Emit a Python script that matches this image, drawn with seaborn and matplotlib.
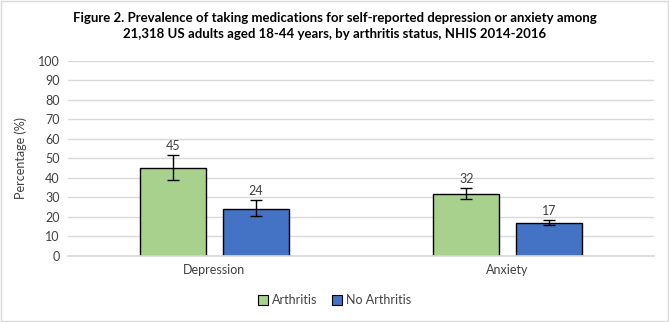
import matplotlib
matplotlib.use("Agg")
import matplotlib.pyplot as plt
import seaborn as sns
import pandas as pd
import numpy as np
from matplotlib.patches import Rectangle

categories = ["Depression", "Anxiety"]
groups = ["Arthritis", "No Arthritis"]
arthritis = [45, 32]
no_arthritis = [24, 17]
arthritis_lo = [39, 29.3]
arthritis_hi = [51.8, 35]
no_arthritis_lo = [20.5, 15.9]
no_arthritis_hi = [28.7, 18.5]
yticks = [0, 10, 20, 30, 40, 50, 60, 70, 80, 90, 100]
title = ("Figure 2. Prevalence of taking medications for self-reported depression or anxiety among\n"
         "21,318 US adults aged 18-44 years, by arthritis status, NHIS 2014-2016")

sns.set_theme(style="white")
plt.rcParams['font.family'] = ['Lato', 'DejaVu Sans']

df = pd.DataFrame({
    "Condition": categories * 2,
    "Group": [groups[0]] * 2 + [groups[1]] * 2,
    "Value": arthritis + no_arthritis,
    "lo": arthritis_lo + no_arthritis_lo,
    "hi": arthritis_hi + no_arthritis_hi,
})

fig = plt.figure(figsize=(6.69, 3.22), dpi=100)
ax = fig.add_axes([0.1016, 0.205, 0.876, 0.6056])
colors = ["#A9D18E", "#4472C4"]
sns.barplot(data=df, x="Condition", y="Value", hue="Group", order=categories,
            hue_order=groups, palette=colors, ax=ax, width=0.563, gap=0.2,
            edgecolor="black", linewidth=1.0, errorbar=None, legend=False,
            saturation=1)

# error bars and labels
for gi, g in enumerate(groups):
    container = ax.containers[gi]
    sub = df[df["Group"] == g].set_index("Condition").loc[categories]
    for bar, (_, row) in zip(container.patches, sub.iterrows()):
        xc = bar.get_x() + bar.get_width() / 2
        v = row["Value"]
        ax.errorbar(xc, v, yerr=[[v - row["lo"]], [row["hi"] - v]], fmt="none",
                    ecolor="black", elinewidth=1.0, capsize=4, capthick=1.0, zorder=5)
        ax.annotate(f"{int(v)}", (xc, row["hi"]), xytext=(0, 2), textcoords="offset points",
                    ha="center", va="bottom", fontsize=9, color="#404040")

ax.set_ylim(0, 100)
ax.set_yticks(yticks)
ax.set_xlim(-0.5, 1.5)
ax.yaxis.grid(True, color="#D9D9D9", linewidth=1.0)
ax.set_axisbelow(True)
for s in ["top", "right", "left"]:
    ax.spines[s].set_visible(False)
ax.spines["bottom"].set_color("#D9D9D9")
ax.tick_params(axis="both", length=0, labelsize=9, colors="#404040", pad=6)
ax.set_xlabel("")
ax.set_ylabel("Percentage (%)", fontsize=9, color="#404040", labelpad=8)

fig.text(0.5, 0.963, title, ha="center", va="top", fontsize=9.5, fontweight="bold",
         color="black", linespacing=1.45)

handles = [Rectangle((0, 0), 1, 1, facecolor=c, edgecolor="black", linewidth=0.8) for c in colors]
fig.legend(handles, groups, loc="center", bbox_to_anchor=(0.5, 0.068), ncol=2, frameon=False,
           fontsize=9, handlelength=0.8, handleheight=0.8, columnspacing=1.2, handletextpad=0.3,
           labelcolor="#404040")

fig.add_artist(Rectangle((0.001, 0.002), 0.997, 0.995, transform=fig.transFigure, fill=False,
                         edgecolor="#D9D9D9", linewidth=1.0))

fig.savefig("out.png", dpi=100)
